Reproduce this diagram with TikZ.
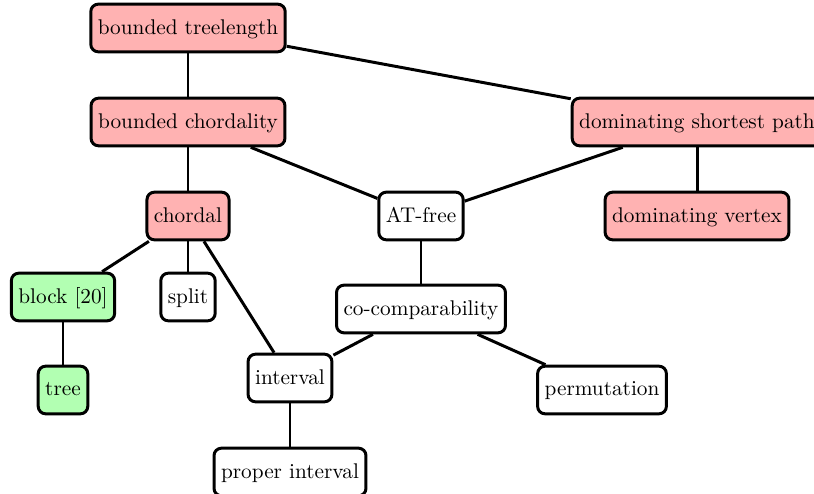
\documentclass[tikz,border=0pt]{standalone}
\begin{document}
\begin{tikzpicture}[x=0.47pt,y=-0.47pt,
  box/.style={draw=black,line width=1.4pt,rounded corners=3.5pt,fill=white,
    minimum height=22.4pt,inner xsep=3.3pt,text depth=0.25ex},
  hard/.style={box,fill=red!30},
  easy/.style={box,fill=green!30},
  link/.style={line width=1.4pt}]
\useasboundingbox (0,0) rectangle (814,494);
\node[hard] (bt) at (188,28) {bounded treelength};
\node[hard] (bc) at (188,122) {bounded chordality};
\node[hard] (dsp) at (697,122) {dominating shortest path};
\node[hard] (dv) at (697,216) {dominating vertex};
\node[hard] (ch) at (188,216) {chordal};
\node[box] (at) at (421,216) {AT-free};
\node[easy] (bl) at (63,297) {block [20]};
\node[box] (sp) at (188,297) {split};
\node[easy] (tr) at (63,390) {tree};
\node[box] (cc) at (421,309) {co-comparability};
\node[box] (iv) at (290,378) {interval};
\node[box] (pm) at (602,390) {permutation};
\node[box] (pi) at (290,472) {proper interval};
\draw[link] (bt) -- (bc);
\draw[link] (bt) -- (dsp);
\draw[link] (bc) -- (ch);
\draw[link] (bc) -- (at);
\draw[link] (dsp) -- (at);
\draw[link] (dsp) -- (dv);
\draw[link] (ch) -- (bl);
\draw[link] (ch) -- (sp);
\draw[link] (ch) -- (iv);
\draw[link] (bl) -- (tr);
\draw[link] (at) -- (cc);
\draw[link] (cc) -- (iv);
\draw[link] (cc) -- (pm);
\draw[link] (iv) -- (pi);
\end{tikzpicture}
\end{document}
